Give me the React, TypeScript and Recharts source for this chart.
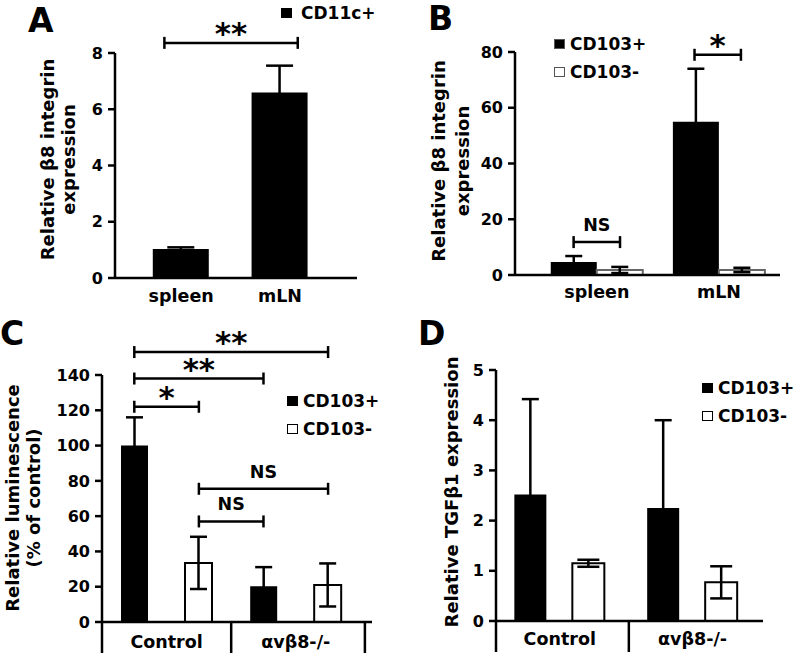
import React from 'react'
import { BarChart, Bar, XAxis, YAxis, ErrorBar, ReferenceLine, Legend } from 'recharts'

const FONT = '"DejaVu Sans", sans-serif'

// A: CD11c+ cells
const tissuesA = ['spleen', 'mLN']
const cd11cMean = [1.03, 6.6]
const cd11cErr = [0.06, 0.95]

// B: CD103+ / CD103- DCs
const tissuesB = ['spleen', 'mLN']
const bPosMean = [4.7, 55]
const bPosErr = [2.1, 19]
const bNegMean = [1.8, 1.8]
const bNegErr = [1.1, 0.8]

// C: luminescence
const groupsC = ['Control', 'αvβ8-/-']
const cPosMean = [100, 20.3]
const cPosErr = [16, 10.8]
const cNegMean = [33.5, 21]
const cNegErr = [14.8, 12.2]

// D: TGFβ1
const groupsD = ['Control', 'αvβ8-/-']
const dPosMean = [2.52, 2.25]
const dPosErr = [1.9, 1.75]
const dNegMean = [1.15, 0.77]
const dNegErr = [0.07, 0.32]

// significance brackets (x in axis units, y in value units)
const bracketsA = [{ from: 0.83, to: 2.18, y: 8.36, text: '**' }]
const bracketsB = [
  { from: 0.81, to: 1.19, y: 11.8, text: 'NS' },
  { from: 1.8, to: 2.18, y: 79, text: '*' },
]
const bracketsC = [
  { from: 0.75, to: 2.25, y: 153, text: '**' },
  { from: 0.75, to: 1.75, y: 138, text: '**' },
  { from: 0.75, to: 1.25, y: 122, text: '*' },
  { from: 1.25, to: 2.25, y: 75.5, text: 'NS' },
  { from: 1.25, to: 1.75, y: 57, text: 'NS' },
]

const dataA = tissuesA.map((name, i) => ({ pos: i + 1, name, mean: cd11cMean[i], err: cd11cErr[i] }))
const dataB = tissuesB.map((name, i) => ({
  pos: i + 1, name, plus: bPosMean[i], plusErr: bPosErr[i], minus: bNegMean[i], minusErr: bNegErr[i],
}))
const dataC = groupsC.map((name, i) => ({
  pos: i + 1, name, plus: cPosMean[i], plusErr: cPosErr[i], minus: cNegMean[i], minusErr: cNegErr[i],
}))
const dataD = groupsD.map((name, i) => ({
  pos: i + 1, name, plus: dPosMean[i], plusErr: dPosErr[i], minus: dNegMean[i], minusErr: dNegErr[i],
}))

const axisStyle = { stroke: '#000', strokeWidth: 2.5 }
const tickStyle = { fill: '#000', fontSize: 16, fontWeight: 'bold', fontFamily: FONT }

const GroupTick = (props: any) => {
  const { x, y, payload, names, seps = [], dy } = props
  const v = payload.value
  if (seps.some((s: number) => Math.abs(s - v) < 1e-6)) {
    return <line x1={x} x2={x} y1={y} y2={y + 31} stroke="#000" strokeWidth={2.5} />
  }
  return (
    <text x={x} y={y + dy} textAnchor="middle" fontFamily={FONT} fontWeight="bold" fontSize={17.5} fill="#000">
      {names[Math.round(v) - 1]}
    </text>
  )
}

const yTitle = (lines: string[], xs: number[], dy: number) => (props: any) => {
  const vb = props.viewBox
  if (!vb) return null
  const cy = vb.y + vb.height / 2 + dy
  return (
    <g>
      {lines.map((l, i) => {
        const cx = vb.x + xs[i]
        return (
          <text key={l} x={cx} y={cy} transform={`rotate(-90, ${cx}, ${cy})`} textAnchor="middle"
            dominantBaseline="central" fontFamily={FONT} fontWeight="bold" fontSize={18} fill="#000">
            {l}
          </text>
        )
      })}
    </g>
  )
}

const bracketShape = (text: string) => (props: any) => {
  const { x1, y1, x2 } = props
  const stars = text.includes('*')
  return (
    <g>
      <line x1={x1} y1={y1} x2={x2} y2={y1} stroke="#000" strokeWidth={2.5} />
      <line x1={x1} y1={y1 - 6} x2={x1} y2={y1 + 6} stroke="#000" strokeWidth={2.5} />
      <line x1={x2} y1={y1 - 6} x2={x2} y2={y1 + 6} stroke="#000" strokeWidth={2.5} />
      <text x={(x1 + x2) / 2} y={stars ? y1 + 1 : y1 - 11} textAnchor="middle" fontFamily={FONT}
        fontWeight="bold" fontSize={stars ? 31 : 17.5} fill="#000">
        {text}
      </text>
    </g>
  )
}

const renderBrackets = (list: { from: number; to: number; y: number; text: string }[]) =>
  list.map((b, i) => (
    <ReferenceLine
      key={i}
      segment={[{ x: b.from, y: b.y }, { x: b.to, y: b.y }]}
      ifOverflow="visible"
      shape={bracketShape(b.text)}
    />
  ))

const LegendBox = ({ payload, border, gap }: any) => (
  <div style={{ fontFamily: FONT, fontWeight: 'bold', fontSize: 17, color: '#000' }}>
    {(payload || []).map((e: any) => (
      <div key={e.value} style={{ display: 'flex', alignItems: 'center', height: 28 }}>
        <span style={{
          width: 11, height: 10, boxSizing: 'border-box', display: 'inline-block',
          background: e.payload?.fill ?? e.color, border: `1.5px solid ${border}`,
        }} />
        <span style={{ marginLeft: gap, whiteSpace: 'nowrap' }}>{e.value}</span>
      </div>
    ))}
  </div>
)

const legendAt = (left: number, top: number, border: string, gap = 5) => (
  <Legend
    layout="vertical"
    align="center"
    verticalAlign="middle"
    wrapperStyle={{ left, top, width: 'auto' }}
    content={(p: any) => <LegendBox {...p} border={border} gap={gap} />}
  />
)

function PanelA() {
  return (
    <BarChart width={400} height={320} data={dataA} margin={{ top: 53, right: 43, bottom: 12, left: 65 }}>
      <XAxis dataKey="pos" type="number" domain={[0.33, 2.78]} allowDataOverflow ticks={[1, 2]} interval={0}
        tickSize={0} tickMargin={0} tickLine={false} axisLine={axisStyle} height={30}
        tick={(p: any) => <GroupTick {...p} names={tissuesA} dy={24} />} />
      <YAxis domain={[0, 8]} allowDataOverflow ticks={[0, 2, 4, 6, 8]} interval={0} width={50} tickSize={7}
        tickMargin={5} axisLine={axisStyle} tickLine={axisStyle} tick={tickStyle}
        label={yTitle(['Relative β8 integrin', 'expression'], [-18, 3], -6)} />
      <Bar dataKey="mean" name="CD11c+" fill="#000" barSize={56} isAnimationActive={false}>
        <ErrorBar dataKey="err" width={13.5} strokeWidth={2.5} stroke="#000" direction="y" isAnimationActive={false} />
      </Bar>
      {renderBrackets(bracketsA)}
      {legendAt(281, -1.5, '#000', 9)}
    </BarChart>
  )
}

function PanelB() {
  return (
    <BarChart width={400} height={320} data={dataB} barGap={0} margin={{ top: 52, right: 20, bottom: 15, left: 65 }}>
      <XAxis dataKey="pos" type="number" domain={[0.33, 2.5]} allowDataOverflow ticks={[1, 2]} interval={0}
        tickSize={0} tickMargin={0} tickLine={false} axisLine={axisStyle} height={30}
        tick={(p: any) => <GroupTick {...p} names={tissuesB} dy={23} />} />
      <YAxis domain={[0, 80]} allowDataOverflow ticks={[0, 20, 40, 60, 80]} interval={0} width={50} tickSize={7}
        tickMargin={5} axisLine={axisStyle} tickLine={axisStyle} tick={tickStyle}
        label={yTitle(['Relative β8 integrin', 'expression'], [-27, -3], -2.5)} />
      <Bar dataKey="plus" name="CD103+" fill="#000" barSize={46} isAnimationActive={false}>
        <ErrorBar dataKey="plusErr" width={8.5} strokeWidth={2.5} stroke="#000" direction="y" isAnimationActive={false} />
      </Bar>
      <Bar dataKey="minus" name="CD103-" fill="#fff" stroke="#666" strokeWidth={2} barSize={46} isAnimationActive={false}>
        <ErrorBar dataKey="minusErr" width={8.5} strokeWidth={2.5} stroke="#000" direction="y" isAnimationActive={false} />
      </Bar>
      {renderBrackets(bracketsB)}
      {legendAt(154, 30, '#555')}
    </BarChart>
  )
}

function PanelC() {
  const seps = [0.5, 1.5, 2.535]
  return (
    <BarChart width={400} height={338} data={dataC} barGap={37} margin={{ top: 55, right: 28, bottom: 6, left: 52 }}>
      <XAxis dataKey="pos" type="number" domain={[0.5, 2.59]} allowDataOverflow ticks={[0.5, 1, 1.5, 2, 2.535]}
        interval={0} tickSize={0} tickMargin={0} tickLine={false} axisLine={axisStyle} height={30}
        tick={(p: any) => <GroupTick {...p} names={groupsC} seps={seps} dy={26} />} />
      <YAxis domain={[0, 140]} allowDataOverflow ticks={[0, 20, 40, 60, 80, 100, 120, 140]} interval={0} width={50}
        tickSize={7} tickMargin={5} axisLine={axisStyle} tickLine={axisStyle} tick={tickStyle}
        label={yTitle(['Relative luminescence', '(% of control)'], [-40, -19], -0.5)} />
      <Bar dataKey="plus" name="CD103+" fill="#000" barSize={27} isAnimationActive={false}>
        <ErrorBar dataKey="plusErr" width={8.5} strokeWidth={2.5} stroke="#000" direction="y" isAnimationActive={false} />
      </Bar>
      <Bar dataKey="minus" name="CD103-" fill="#fff" stroke="#000" strokeWidth={2} barSize={27} isAnimationActive={false}>
        <ErrorBar dataKey="minusErr" width={8.5} strokeWidth={2.5} stroke="#000" direction="y" isAnimationActive={false} />
      </Bar>
      {renderBrackets(bracketsC)}
      {legendAt(287, 66.5, '#000')}
    </BarChart>
  )
}

function PanelD() {
  const seps = [0.52, 1.52]
  return (
    <BarChart width={400} height={338} data={dataD} barGap={26} margin={{ top: 50, right: 37, bottom: 7, left: 46 }}>
      <XAxis dataKey="pos" type="number" domain={[0.52, 2.53]} allowDataOverflow ticks={[0.52, 1, 1.52, 2]}
        interval={0} tickSize={0} tickMargin={0} tickLine={false} axisLine={axisStyle} height={30}
        tick={(p: any) => <GroupTick {...p} names={groupsD} seps={seps} dy={24} />} />
      <YAxis domain={[0, 5]} allowDataOverflow ticks={[0, 1, 2, 3, 4, 5]} interval={0} width={50}
        tickSize={7} tickMargin={5} axisLine={axisStyle} tickLine={axisStyle} tick={tickStyle}
        label={yTitle(['Relative TGFβ1 expression'], [5], -3.5)} />
      <Bar dataKey="plus" name="CD103+" fill="#000" barSize={32} isAnimationActive={false}>
        <ErrorBar dataKey="plusErr" width={8.5} strokeWidth={2.5} stroke="#000" direction="y" isAnimationActive={false} />
      </Bar>
      <Bar dataKey="minus" name="CD103-" fill="#fff" stroke="#000" strokeWidth={2} barSize={32} isAnimationActive={false}>
        <ErrorBar dataKey="minusErr" width={11} strokeWidth={2.5} stroke="#000" direction="y" isAnimationActive={false} />
      </Bar>
      {legendAt(302, 54, '#000')}
    </BarChart>
  )
}

const panelLetters = ['A', 'B', 'C', 'D']
const letterPos = [[28, 32], [428, 30], [0, 345], [418, 345]]

export default function App() {
  return (
    <div style={{ position: 'absolute', left: 0, top: 0, width: 800, height: 658, background: '#fff', fontFamily: FONT }}>
      <div style={{ position: 'absolute', left: 0, top: 0 }}><PanelA /></div>
      <div style={{ position: 'absolute', left: 400, top: 0 }}><PanelB /></div>
      <div style={{ position: 'absolute', left: 0, top: 320 }}><PanelC /></div>
      <div style={{ position: 'absolute', left: 400, top: 320 }}><PanelD /></div>
      <svg width={800} height={658} style={{ position: 'absolute', left: 0, top: 0, pointerEvents: 'none' }}>
        {panelLetters.map((l, i) => (
          <text key={l} x={letterPos[i][0]} y={letterPos[i][1]} fontFamily={FONT} fontWeight="bold" fontSize={33} fill="#000">
            {l}
          </text>
        ))}
      </svg>
    </div>
  )
}
